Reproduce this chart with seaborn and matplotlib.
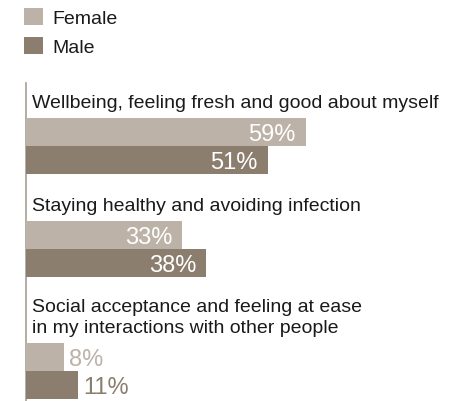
import matplotlib
matplotlib.use("Agg")
import matplotlib.pyplot as plt
import seaborn as sns
import pandas as pd

# Survey answers, share of respondents by sex
categories = [
    "Wellbeing, feeling fresh and good about myself",
    "Staying healthy and avoiding infection",
    "Social acceptance and feeling at ease\nin my interactions with other people",
]
sexes = ["Female", "Male"]
female = [59, 33, 8]
male = [51, 38, 11]

colors = {"Female": "#bcb2a7", "Male": "#8b7e6e"}
rule_color = "#a89e93"
text_color = "#1a1a1a"

W, H, DPI = 449, 402, 100
plt.rcParams["font.family"] = ["Liberation Sans", "DejaVu Sans"]

fig = plt.figure(figsize=(W / DPI, H / DPI), dpi=DPI)


def fx(px):
    return px / W


def fy(py):
    return 1 - py / H


PT = 72 / DPI          # points per pixel
axis_x = 25.5          # vertical rule
bar_x0 = 26            # zero of the value scale
px_per_pct = 4.74
bar_h = 56             # both bars of a group
first_top = 119
gap = 47
extra_line = 19

# vertical rule down the left side
rule = fig.add_axes([fx(axis_x), 0, fx(W - axis_x), fy(84)])
rule.patch.set_alpha(0)
rule.set_xticks([])
rule.set_yticks([])
for side in ("top", "right", "bottom"):
    rule.spines[side].set_visible(False)
rule.spines["left"].set_color(rule_color)
rule.spines["left"].set_linewidth(1.2)

legend_handles = None
top = first_top
for i, title in enumerate(categories):
    df = pd.DataFrame({"sex": sexes, "value": [female[i], male[i]]})
    ax = fig.add_axes([fx(bar_x0), fy(top + bar_h), fx(W - bar_x0), bar_h / H])
    ax.patch.set_alpha(0)
    sns.barplot(data=df, x="value", y="sex", hue="sex", order=sexes,
                hue_order=sexes, palette=colors, width=1.0, saturation=1,
                errorbar=None, legend=(i == 0), ax=ax)
    if i == 0:
        legend_handles = ax.get_legend_handles_labels()
        ax.legend_.remove()
    ax.set_xlim(0, (W - bar_x0) / px_per_pct)
    ax.set_ylim(1.5, -0.5)
    ax.set_axis_off()

    # value labels: white inside long bars, bar-coloured beside short ones
    for sex, cont in zip(sexes, ax.containers):
        for bar, val in zip(cont, cont.datavalues):
            yc = bar.get_y() + bar.get_height() / 2
            label = f"{val:.0f}%"
            if val >= 20:
                ax.annotate(label, (val, yc), xytext=(-10 * PT, 0),
                            textcoords="offset points", ha="right",
                            va="center_baseline", color="white", fontsize=17)
            else:
                ax.annotate(label, (val, yc), xytext=(5 * PT, 0),
                            textcoords="offset points", ha="left",
                            va="center_baseline", color=colors[sex],
                            fontsize=17)

    fig.text(fx(32), fy(top - 7), title, ha="left", va="bottom",
             fontsize=14, color=text_color, linespacing=1.3)

    nxt_extra = 0
    if i + 1 < len(categories):
        nxt_extra = categories[i + 1].count("\n") * extra_line
    top = top + bar_h + gap + nxt_extra

handles, labels = legend_handles
fig.legend(handles, labels, loc="upper left",
           bbox_to_anchor=(fx(24), fy(9)), frameon=False, borderpad=0,
           borderaxespad=0, handlelength=1.0, handleheight=1.0,
           handletextpad=0.45, labelspacing=0.5, fontsize=14,
           labelcolor=text_color)

fig.savefig("out.png", dpi=DPI)
